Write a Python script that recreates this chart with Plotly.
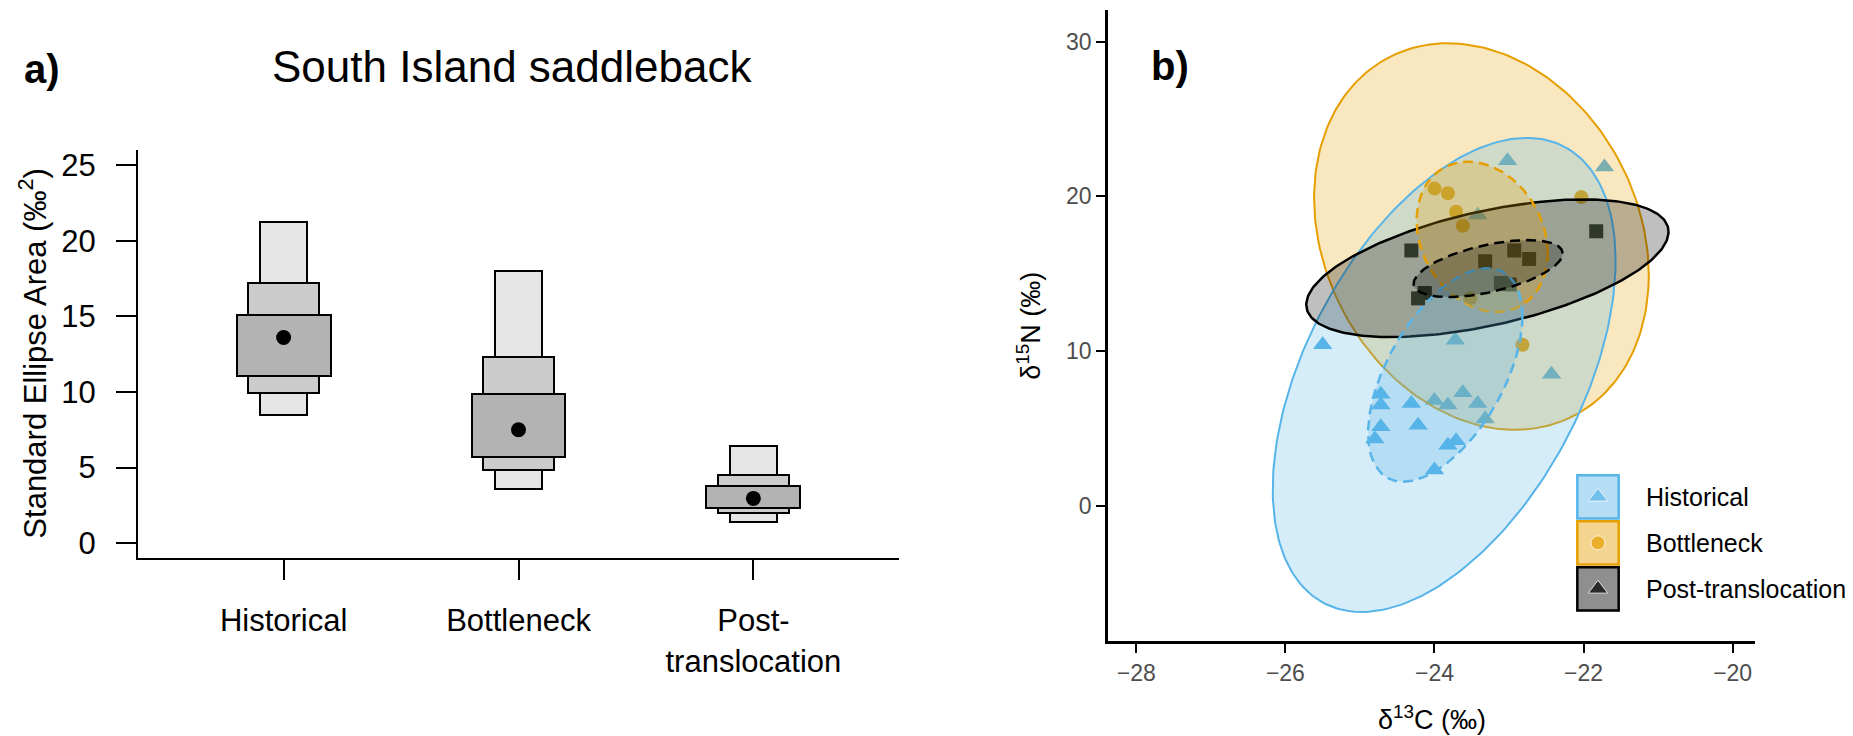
import numpy as np
import plotly.graph_objects as go

# ---------------- Panel a: SEA posterior density boxes ----------------
groups = ["Historical", "Bottleneck", "Post-translocation"]
group_ticktext = ["Historical", "Bottleneck", "Post-<br>translocation"]
group_pos = [1, 2, 3]
sea_mode = [13.6, 7.5, 2.96]
ci50_low = [11.05, 5.70, 2.32]
ci50_high = [15.10, 9.87, 3.77]
ci75_low = [9.94, 4.84, 1.97]
ci75_high = [17.18, 12.32, 4.53]
ci95_low = [8.47, 3.55, 1.42]
ci95_high = [21.26, 18.00, 6.39]
sea_ticks = [0, 5, 10, 15, 20, 25]

# ---------------- Panel b: isotope biplot ----------------
hist_d13C = [-25.50, -23.72, -24.72, -24.72, -24.31, -24.00, -23.82, -23.62, -23.42, -23.32,
             -24.72, -24.22, -24.80, -23.82, -23.71, -24.00, -22.43, -23.02, -21.72, -23.42]
hist_d15N = [10.4, 10.7, 7.2, 6.5, 6.6, 6.8, 6.5, 7.3, 6.6, 5.6,
             5.1, 5.2, 4.3, 3.9, 4.2, 2.3, 8.5, 22.3, 21.9, 18.8]
bott_d13C = [-24.00, -23.82, -23.71, -23.62, -22.03, -23.52, -22.82]
bott_d15N = [20.5, 20.2, 19.0, 18.1, 19.95, 13.4, 10.4]
post_d13C = [-24.31, -23.32, -22.93, -22.73, -21.83, -23.11, -22.99, -24.13, -24.22]
post_d15N = [16.5, 15.8, 16.5, 15.95, 17.75, 14.4, 14.3, 13.75, 13.4]

# ellipse parameters per group: Historical, Bottleneck, Post-translocation
big_cx = [-23.87, -23.37, -23.29]
big_cy = [8.45, 17.40, 15.35]
big_sx = [2.30, 2.245, 2.43]
big_sy = [15.33, 12.50, 4.45]
big_rho = [0.482, -0.20, 0.53]
sea_cx = [-23.855, -23.36, -23.28]
sea_cy = [8.45, 17.38, 15.33]
sea_sx = [1.035, 0.88, 1.00]
sea_sy = [6.90, 4.86, 1.84]
sea_rho = [0.546, -0.216, 0.53]

d13C_ticks = [-28, -26, -24, -22, -20]
d15N_ticks = [0, 10, 20, 30]

colors = ["#56B4E9", "#E69F00", "#000000"]
rgb = [(86, 180, 233), (230, 159, 0), (0, 0, 0)]
symbols = ["triangle-up", "circle", "square"]
legend_symbols = ["triangle-up", "circle", "triangle-up"]
draw_order = [1, 0, 2]  # groups are drawn in alphabetical (factor) order

W, H = 1853, 736
FONT = "Liberation Sans"


def px_x(p):
    return p / W


def px_y(p):
    return 1 - p / H


fig = go.Figure()

# ---- panel a bars (95, 75, 50 % credible intervals) ----
for lo, hi, wdt, col in [(ci95_low, ci95_high, 0.2, "#E6E6E6"),
                         (ci75_low, ci75_high, 0.3, "#CCCCCC"),
                         (ci50_low, ci50_high, 0.4, "#B3B3B3")]:
    fig.add_trace(go.Bar(
        x=group_pos, base=lo, y=[h - l for h, l in zip(hi, lo)], width=wdt,
        marker=dict(color=col, line=dict(color="black", width=2)),
        xaxis="x", yaxis="y", showlegend=False, hoverinfo="skip"))
fig.add_trace(go.Scatter(
    x=group_pos, y=sea_mode, mode="markers",
    marker=dict(color="black", size=15, symbol="circle"),
    xaxis="x", yaxis="y", showlegend=False))

# ---- panel b points (drawn beneath ellipses) ----
pts = [(hist_d13C, hist_d15N), (bott_d13C, bott_d15N), (post_d13C, post_d15N)]
sizes = [17, 14, 14]
for i in draw_order:
    xs, ys = pts[i]
    fig.add_trace(go.Scatter(
        x=xs, y=ys, mode="markers", name=groups[i],
        marker=dict(color=colors[i], symbol=symbols[i], size=sizes[i], line=dict(width=0)),
        xaxis="x2", yaxis="y2", showlegend=False))

t = np.linspace(0, 2 * np.pi, 241)


def ellipse(cx, cy, sx, sy, rho):
    ex = cx + sx * np.cos(t)
    ey = cy + sy * (rho * np.cos(t) + np.sqrt(1 - rho ** 2) * np.sin(t))
    return ex, ey


# big ellipses (solid)
for i in draw_order:
    ex, ey = ellipse(big_cx[i], big_cy[i], big_sx[i], big_sy[i], big_rho[i])
    r, g, b = rgb[i]
    fig.add_trace(go.Scatter(
        x=ex, y=ey, mode="lines", fill="toself",
        fillcolor=f"rgba({r},{g},{b},0.25)",
        line=dict(color=colors[i], width=2.5 if i == 2 else 2),
        xaxis="x2", yaxis="y2", showlegend=False, hoverinfo="skip"))
# standard ellipses (dashed)
for i in draw_order:
    ex, ey = ellipse(sea_cx[i], sea_cy[i], sea_sx[i], sea_sy[i], sea_rho[i])
    r, g, b = rgb[i]
    fig.add_trace(go.Scatter(
        x=ex, y=ey, mode="lines", fill="toself",
        fillcolor=f"rgba({r},{g},{b},0.25)",
        line=dict(color=colors[i], width=2.5, dash="10px,6px"),
        xaxis="x2", yaxis="y2", showlegend=False, hoverinfo="skip"))

# ---- legend (drawn on a hidden axis) ----
rows = [2.5, 1.5, 0.5]
fig.add_trace(go.Scatter(
    x=[0.5, 0.5, 0.5], y=rows, mode="markers",
    marker=dict(color=colors, symbol=legend_symbols, size=[17, 14, 17]),
    xaxis="x3", yaxis="y3", showlegend=False, hoverinfo="skip"))

shapes = []
for i, ry in enumerate(rows):
    r, g, b = rgb[i]
    shapes.append(dict(type="rect", xref="x3", yref="y3",
                       x0=0.03, x1=0.97, y0=ry - 0.47, y1=ry + 0.47,
                       fillcolor=f"rgba({r},{g},{b},0.44)",
                       line=dict(color=colors[i], width=2.5), layer="below"))

annotations = []
for i, ry in enumerate(rows):
    annotations.append(dict(text=groups[i], xref="x3", yref="y3", x=1, y=ry,
                            xanchor="left", yanchor="middle", xshift=24, showarrow=False,
                            font=dict(family=FONT, size=25, color="black")))

# panel labels and titles
annotations += [
    dict(text="<b>a)</b>", xref="paper", yref="paper", x=px_x(34), y=px_y(59),
         xanchor="center", yanchor="middle", showarrow=False,
         font=dict(family=FONT, size=40, color="black")),
    dict(text="South Island saddleback", xref="paper", yref="paper",
         x=px_x(504), y=px_y(57), xanchor="center", yanchor="middle", showarrow=False,
         font=dict(family=FONT, size=44, color="black")),
    dict(text="Standard Ellipse Area (‰<sup>2</sup>)", xref="paper", yref="paper",
         x=px_x(25), y=px_y(346), xanchor="center", yanchor="middle", textangle=-90,
         showarrow=False, font=dict(family=FONT, size=31, color="black")),
    dict(text="<b>b)</b>", xref="paper", yref="paper", x=px_x(1162), y=px_y(56),
         xanchor="center", yanchor="middle", showarrow=False,
         font=dict(family=FONT, size=40, color="black")),
    dict(text="δ<sup>13</sup>C (‰)", xref="paper", yref="paper", x=px_x(1424), y=px_y(713),
         xanchor="center", yanchor="middle", showarrow=False,
         font=dict(family=FONT, size=27, color="black")),
    dict(text="δ<sup>15</sup>N (‰)", xref="paper", yref="paper", x=px_x(1021), y=px_y(318),
         xanchor="center", yanchor="middle", textangle=-90, showarrow=False,
         font=dict(family=FONT, size=27, color="black")),
]

fig.update_layout(
    width=W, height=H, margin=dict(l=0, r=0, t=0, b=0),
    paper_bgcolor="white", plot_bgcolor="rgba(0,0,0,0)",
    barmode="overlay", bargap=0, showlegend=False,
    font=dict(family=FONT, color="black"),
    xaxis=dict(domain=[px_x(130), px_x(891)], range=[0.38, 3.62], anchor="y",
               tickvals=group_pos, ticktext=group_ticktext, ticks="outside",
               ticklen=20, tickwidth=2, tickcolor="black", showline=True,
               linecolor="black", linewidth=2, showgrid=False, zeroline=False,
               tickfont=dict(family=FONT, size=31, color="black"),
               ticklabelstandoff=14),
    yaxis=dict(domain=[px_y(552), px_y(141)], range=[-1, 26], anchor="x",
               tickvals=sea_ticks, ticks="outside", ticklen=20, tickwidth=2,
               tickcolor="black", showline=True, linecolor="black", linewidth=2,
               showgrid=False, zeroline=False,
               tickfont=dict(family=FONT, size=31, color="black"),
               ticklabelstandoff=14),
    xaxis2=dict(domain=[px_x(1100), px_x(1747)], range=[-28.38, -19.70], anchor="y2",
                tickvals=d13C_ticks, ticks="outside", ticklen=9, tickwidth=2,
                tickcolor="black", showline=True, linecolor="black", linewidth=2.5,
                showgrid=False, zeroline=False,
                tickfont=dict(family=FONT, size=23, color="#4D4D4D")),
    yaxis2=dict(domain=[px_y(635.7), px_y(0)], range=[-8.78, 32.05], anchor="x2",
                tickvals=d15N_ticks, ticks="outside", ticklen=9, tickwidth=2,
                tickcolor="black", showline=True, linecolor="black", linewidth=2.5,
                showgrid=False, zeroline=False,
                tickfont=dict(family=FONT, size=23, color="#4D4D4D")),
    xaxis3=dict(domain=[px_x(1568), px_x(1612)], range=[0, 1], anchor="y3",
                visible=False, fixedrange=True),
    yaxis3=dict(domain=[px_y(606), px_y(467)], range=[0, 3], anchor="x3",
                visible=False, fixedrange=True),
    shapes=shapes, annotations=annotations,
)

fig.write_html("out.html")
